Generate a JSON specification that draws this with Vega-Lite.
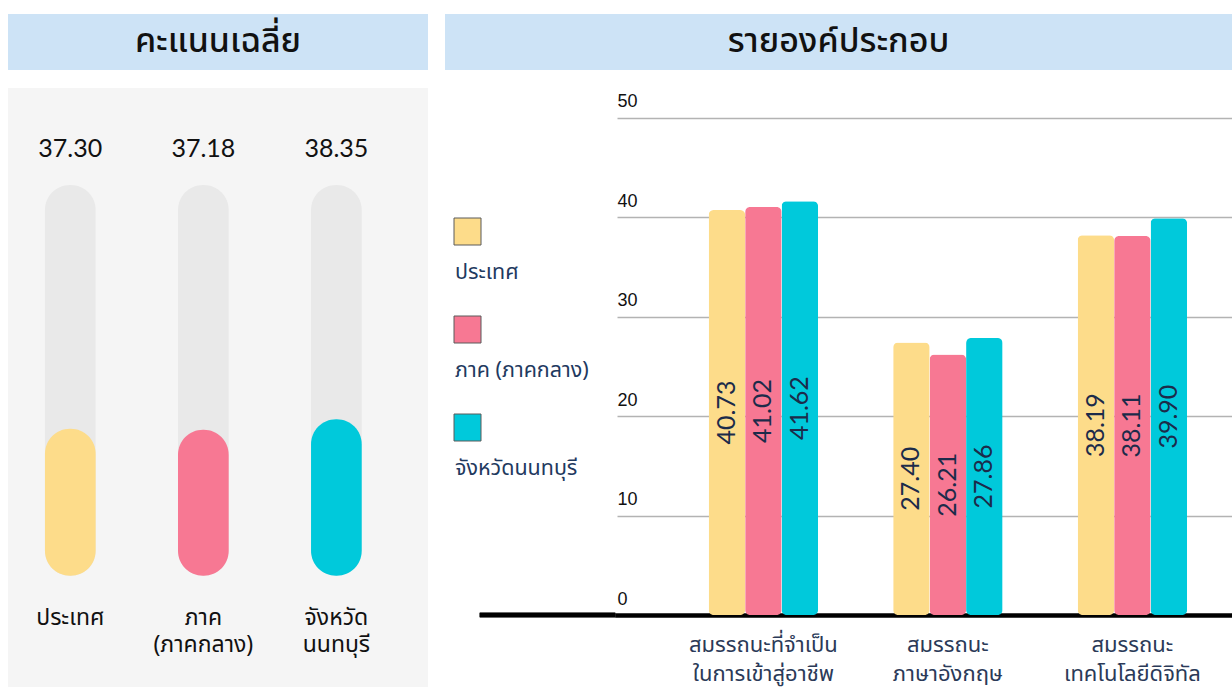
{
  "$schema": "https://vega.github.io/schema/vega-lite/v6.json",
  "padding": {"left": 8, "top": 14, "right": 0, "bottom": 0},
  "autosize": {"type": "pad"},
  "background": "white",
  "spacing": 13,
  "config": {
    "view": {"stroke": null},
    "font": "Noto Sans Thai, Sarabun, Loma, Garuda, Noto Sans, sans-serif"
  },
  "hconcat": [
    {
      "vconcat": [
        {
          "width": 420,
          "height": 56,
          "view": {"fill": "#cde3f6", "stroke": null},
          "data": {"values": [{"t": "คะแนนเฉลี่ย"}]},
          "mark": {"type": "text", "fontSize": 34, "fontWeight": 500, "color": "#111111"},
          "encoding": {"text": {"field": "t", "type": "nominal"}}
        },
        {
          "width": 420,
          "height": 599,
          "view": {"fill": "#f5f5f5", "stroke": null},
          "data": {
            "values": [
              {"area": "ประเทศ", "score": 37.30},
              {"area": "ภาค (ภาคกลาง)", "score": 37.18},
              {"area": "จังหวัดนนทบุรี", "score": 38.35}
            ]
          },
          "encoding": {
            "x": {
              "field": "area",
              "type": "nominal",
              "sort": null,
              "scale": {"paddingInner": 0.619, "paddingOuter": 0.388, "align": 0.358},
              "axis": {
                "title": null,
                "domain": false,
                "ticks": false,
                "labelAngle": 0,
                "labelPadding": -81,
                "labelBaseline": "top",
                "labelFontSize": 23,
                "labelLineHeight": 27,
                "labelColor": "#111111",
                "labelExpr": "datum.label == 'จังหวัดนนทบุรี' ? ['จังหวัด', 'นนทบุรี'] : split(datum.label, ' ')"
              }
            }
          },
          "layer": [
            {
              "mark": {"type": "bar", "color": "#e9e9e9", "cornerRadius": 25},
              "encoding": {
                "y": {"datum": 64.5, "type": "quantitative", "scale": {"domain": [20.9, 64.5], "range": [487.7, 97], "nice": false, "zero": false}, "axis": null},
                "y2": {"datum": 20.9}
              }
            },
            {
              "mark": {"type": "bar", "cornerRadius": 25},
              "encoding": {
                "y": {"field": "score", "type": "quantitative"},
                "y2": {"datum": 20.9},
                "color": {
                  "field": "area",
                  "type": "nominal",
                  "sort": null,
                  "scale": {"domain": ["ประเทศ", "ภาค (ภาคกลาง)", "จังหวัดนนทบุรี"], "range": ["#fddc8a", "#f77893", "#00c9db"]},
                  "legend": null
                }
              }
            },
            {
              "mark": {"type": "text", "dy": -36, "fontSize": 25, "font": "Lato", "color": "#111111"},
              "encoding": {
                "y": {"datum": 64.5, "type": "quantitative"},
                "text": {"field": "score", "type": "quantitative", "format": ".2f"}
              }
            }
          ]
        }
      ],
      "spacing": 18
    },
    {
      "vconcat": [
        {
          "width": 787,
          "height": 56,
          "view": {"fill": "#cde3f6", "stroke": null},
          "data": {"values": [{"t": "รายองค์ประกอบ"}]},
          "mark": {"type": "text", "fontSize": 34, "fontWeight": 500, "color": "#111111"},
          "encoding": {"text": {"field": "t", "type": "nominal"}}
        },
        {
          "hconcat": [
            {
              "width": 168,
              "height": 529,
              "data": {
                "values": [
                  {"s": "ประเทศ"},
                  {"s": "ภาค (ภาคกลาง)"},
                  {"s": "จังหวัดนนทบุรี"}
                ]
              },
              "layer": [
                {
                  "encoding": {
                    "y": {"field": "s", "type": "nominal", "sort": null, "scale": {"type": "point", "padding": 0, "range": [145.5, 341.5]}, "axis": null}
                  },
                  "layer": [
                    {
                      "mark": {"type": "square", "size": 729, "filled": true, "opacity": 1, "stroke": "#5a5a5a", "strokeWidth": 1, "xOffset": -61.5},
                      "encoding": {
                        "color": {
                          "field": "s",
                          "type": "nominal",
                          "sort": null,
                          "scale": {"domain": ["ประเทศ", "ภาค (ภาคกลาง)", "จังหวัดนนทบุรี"], "range": ["#fddc8a", "#f77893", "#00c9db"]},
                          "legend": null
                        }
                      }
                    },
                    {
                      "mark": {"type": "text", "align": "left", "dx": -74, "dy": 41, "fontSize": 21.5, "color": "#1f3a5f"},
                      "encoding": {
                        "text": {"field": "s", "type": "nominal"}
                      }
                    }
                  ]
                },
                {
                  "mark": {"type": "rule", "color": "#000000", "strokeWidth": 4.5, "strokeCap": "square", "strokeDash": [131, 1000]},
                  "encoding": {
                    "y": {"datum": 0, "type": "quantitative", "scale": {"domain": [0, 53.2], "nice": false}, "axis": null}
                  }
                }
              ],
              "resolve": {"scale": {"y": "independent"}}
            },
            {
              "width": 619,
              "height": 529,
              "data": {
                "values": [
                  {"comp": "สมรรถนะที่จำเป็น ในการเข้าสู่อาชีพ", "s": "ประเทศ", "v": 40.73},
                  {"comp": "สมรรถนะที่จำเป็น ในการเข้าสู่อาชีพ", "s": "ภาค (ภาคกลาง)", "v": 41.02},
                  {"comp": "สมรรถนะที่จำเป็น ในการเข้าสู่อาชีพ", "s": "จังหวัดนนทบุรี", "v": 41.62},
                  {"comp": "สมรรถนะ ภาษาอังกฤษ", "s": "ประเทศ", "v": 27.40},
                  {"comp": "สมรรถนะ ภาษาอังกฤษ", "s": "ภาค (ภาคกลาง)", "v": 26.21},
                  {"comp": "สมรรถนะ ภาษาอังกฤษ", "s": "จังหวัดนนทบุรี", "v": 27.86},
                  {"comp": "สมรรถนะ เทคโนโลยีดิจิทัล", "s": "ประเทศ", "v": 38.19},
                  {"comp": "สมรรถนะ เทคโนโลยีดิจิทัล", "s": "ภาค (ภาคกลาง)", "v": 38.11},
                  {"comp": "สมรรถนะ เทคโนโลยีดิจิทัล", "s": "จังหวัดนนทบุรี", "v": 39.90}
                ]
              },
              "encoding": {
                "x": {
                  "field": "comp",
                  "type": "nominal",
                  "sort": null,
                  "scale": {"paddingInner": 0.407, "paddingOuter": 0.381, "align": 0.652},
                  "axis": {
                    "title": null,
                    "labelAngle": 0,
                    "labelExpr": "split(datum.label, ' ')",
                    "domainColor": "#000000",
                    "domainWidth": 4.5,
                    "domainCap": "square",
                    "ticks": false,
                    "labelPadding": 19,
                    "labelBaseline": "top",
                    "labelFontSize": 22,
                    "labelLineHeight": 29,
                    "labelColor": "#2b3a58"
                  }
                },
                "xOffset": {
                  "field": "s",
                  "type": "nominal",
                  "sort": ["ประเทศ", "ภาค (ภาคกลาง)", "จังหวัดนนทบุรี"],
                  "scale": {"paddingInner": 0, "paddingOuter": 0}
                }
              },
              "layer": [
                {
                  "mark": {"type": "bar", "cornerRadius": 5},
                  "encoding": {
                    "y": {
                      "field": "v",
                      "type": "quantitative",
                      "scale": {"domain": [0, 53.2], "nice": false},
                      "axis": {
                        "title": null,
                        "values": [0, 10, 20, 30, 40, 50],
                        "grid": true,
                        "gridColor": "#b3b3b3",
                        "gridWidth": 1.5,
                        "domain": false,
                        "ticks": false,
                        "labelAlign": "left",
                        "labelPadding": 0,
                        "labelBaseline": "alphabetic",
                        "labelOffset": -11,
                        "labelFontSize": 18,
                        "labelFont": "Liberation Sans",
                        "labelColor": "#111111"
                      }
                    },
                    "color": {
                      "field": "s",
                      "type": "nominal",
                      "scale": {"domain": ["ประเทศ", "ภาค (ภาคกลาง)", "จังหวัดนนทบุรี"], "range": ["#fddc8a", "#f77893", "#00c9db"]},
                      "legend": null
                    }
                  }
                },
                {
                  "mark": {"type": "text", "angle": 270, "fontSize": 25, "font": "Lato", "color": "#1c2b4a"},
                  "encoding": {
                    "y": {"field": "v", "type": "quantitative", "scale": {"domain": [0, 106.4], "nice": false}, "axis": null},
                    "text": {"field": "v", "type": "quantitative", "format": ".2f"}
                  }
                }
              ],
              "resolve": {"scale": {"y": "independent"}}
            }
          ],
          "spacing": -2
        }
      ],
      "spacing": 16
    }
  ]
}
